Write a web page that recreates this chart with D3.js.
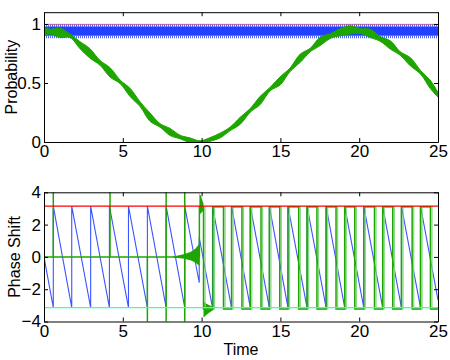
<!DOCTYPE html>
<html>
<head>
<meta charset="utf-8">
<script src="https://cdn.jsdelivr.net/npm/d3@7"></script>
<style>
  body { margin: 0; background: #fff; }
  svg { display: block; font-family: "Liberation Sans", Arial, sans-serif; }
</style>
</head>
<body>
<div id="app"></div>
<script>
/* globals d3 */
// DATA
const xTicks = [0, 5, 10, 15, 20, 25];
const probTicks = [0, 0.5, 1];
const phaseTicks = [-4, -2, 0, 2, 4];

// top panel: red reference, blue band, green curve (centre + half thickness)
const probRef = 0.997;
const blueBandT = [0, 25];
const blueBandLow = [0.9, 0.9];
const blueBandHigh = [0.978, 0.978];
const blueEdges = [0.888, 0.987];

const greenT = [0, 0.38, 1.0, 1.65, 2.29, 2.92, 3.56, 4.19, 4.83, 5.46, 6.1, 6.73, 7.37, 8.0, 8.64,
  9.28, 9.91, 10.5, 11.2, 11.8, 12.45, 13.1, 13.7, 14.36, 15.0, 15.6, 16.26, 16.9, 17.5, 18.2,
  18.8, 19.4, 20.1, 20.7, 21.3, 22.0, 22.6, 23.25, 23.9, 24.5, 25];
const greenMid = [0.94, 0.935, 0.925, 0.9, 0.82, 0.75, 0.67, 0.59, 0.51, 0.42, 0.32, 0.21, 0.14, 0.085, 0.042,
  0.014, 0.0, 0.02, 0.057, 0.11, 0.18, 0.27, 0.35, 0.45, 0.52, 0.61, 0.71, 0.78, 0.85, 0.9,
  0.93, 0.95, 0.94, 0.92, 0.876, 0.82, 0.75, 0.68, 0.59, 0.49, 0.4];
const greenHalf = [0.035, 0.02, 0.04, 0.015, 0.03, 0.04, 0.02, 0.04, 0.015, 0.035, 0.02, 0.035, 0.015, 0.03, 0.015,
  0.02, 0.01, 0.015, 0.02, 0.015, 0.03, 0.015, 0.035, 0.015, 0.035, 0.015, 0.035, 0.015, 0.035, 0.02,
  0.03, 0.035, 0.02, 0.035, 0.02, 0.035, 0.015, 0.035, 0.015, 0.035, 0.02];

// bottom panel
const phaseRefTop = 3.1416;
const phaseRefBottom = -3.1416;

const bluePhaseT = [0, 0.59, 0.59, 1.76, 1.76, 2.96, 2.96, 4.15, 4.15, 5.36, 5.36, 6.56, 6.56,
  7.75, 7.75, 8.93, 8.93, 9.85, 9.85, 10.69, 10.69, 11.9, 11.9, 13.09, 13.09, 14.3, 14.3,
  15.48, 15.48, 16.69, 16.69, 17.9, 17.9, 19.08, 19.08, 20.29, 20.29, 21.49, 21.49,
  22.68, 22.68, 23.89, 23.89, 25];
const bluePhaseV = [0, -3.14, 3.14, -3.14, 3.14, -3.14, 3.14, -3.14, 3.14, -3.14, 3.14, -3.14, 3.14,
  -3.14, 3.14, -3.14, 3.14, -1.6, 1.2, -3.14, 3.14, -3.14, 3.14, -3.14, 3.14, -3.14, 3.14,
  -3.14, 3.14, -3.14, 3.14, -3.14, 3.14, -3.14, 3.14, -3.14, 3.14, -3.14, 3.14,
  -3.14, 3.14, -3.14, 3.14, -2.67];

const greenPhaseT = [0, 0.59, 0.59, 0.59, 4.19, 4.19, 4.19, 6.56, 6.56, 6.56,
  7.75, 7.75, 7.75, 7.75, 8.93, 8.93, 8.93, 8.93, 9.86, 9.86,
  10.12, 10.12, 10.72, 10.72, 11.39, 11.39, 11.9, 11.9, 12.56, 12.56, 13.09, 13.09,
  13.77, 13.77, 14.3, 14.3, 14.96, 14.96, 15.48, 15.48, 16.16, 16.16, 16.69, 16.69,
  17.32, 17.32, 17.9, 17.9, 18.53, 18.53, 19.08, 19.08, 19.72, 19.72, 20.29, 20.29,
  20.97, 20.97, 21.49, 21.49, 22.13, 22.13, 22.68, 22.68, 23.36, 23.36, 23.89, 23.89,
  24.52, 24.52, 25];
const greenPhaseV = [0, 0, 6, 0, 0, 6, 0, 0, -6, 0,
  0, 6, -6, 0, 0, 6, -6, 0, 0, 3.1,
  3.1, -3.22, -3.22, 3.1, 3.1, -3.22, -3.22, 3.1, 3.1, -3.22, -3.22, 3.1,
  3.1, -3.22, -3.22, 3.1, 3.1, -3.22, -3.22, 3.1, 3.1, -3.22, -3.22, 3.1,
  3.1, -3.22, -3.22, 3.1, 3.1, -3.22, -3.22, 3.1, 3.1, -3.22, -3.22, 3.1,
  3.1, -3.22, -3.22, 3.1, 3.1, -3.22, -3.22, 3.1, 3.1, -3.22, -3.22, 3.1,
  3.1, -3.22, -3.22];
// second, paler copy of the square wave, slightly later in time
const greenPhaseLag = 0.1;

// fuzzy parts of the green phase around t = 10 (null = gap)
const fuzzT  = [8.2, 8.8, 9.3, 9.6, 9.85, null, 9.86, 9.95, 10.05, 10.12, null, 10.12, 10.3, 10.5, 10.72];
const fuzzLo = [-0.03, -0.1, -0.2, -0.35, -0.55, null, 2.6, 2.7, 2.8, 2.9, null, -3.75, -3.6, -3.45, -3.3];
const fuzzHi = [0.03, 0.15, 0.3, 0.5, 0.8, null, 3.9, 3.8, 3.5, 3.3, null, -2.75, -2.9, -3.0, -3.1];

// COLOURS
const RED = '#ff0000';
const BLUE = '#2240ff';
const BLUE_LINE = '#3a55ff';
const GREEN = '#1fa500';
const GREEN_PALE = '#86d886';
const CYAN = '#3dffb0';

// LAYOUT
const W = 450, H = 360;
const X0 = 44, X1 = 438;
const topBox = { top: 12.2, bottom: 142 };
const botBox = { top: 192.3, bottom: 321.5 };

const x = d3.scaleLinear().domain([0, 25]).range([X0, X1]);
const yProb = d3.scaleLinear().domain([0, 1.1]).range([topBox.bottom, topBox.top]);
const yPhase = d3.scaleLinear().domain([-4, 4]).range([botBox.bottom, botBox.top]);

const svg = d3.select('#app').append('svg')
  .attr('width', W)
  .attr('height', H);

function clip(id, box) {
  svg.append('clipPath').attr('id', id)
    .append('rect')
    .attr('x', X0).attr('y', box.top)
    .attr('width', X1 - X0).attr('height', box.bottom - box.top);
}
clip('clipTop', topBox);
clip('clipBot', botBox);

function drawAxes(y, box, yTicks, yFmt) {
  const g = svg.append('g').attr('class', 'axes');
  g.append('g')
    .attr('transform', `translate(0,${box.bottom})`)
    .call(d3.axisBottom(x).tickValues(xTicks).tickSize(-4).tickSizeOuter(0).tickPadding(3));
  g.append('g')
    .attr('transform', `translate(0,${box.top})`)
    .call(d3.axisTop(x).tickValues(xTicks).tickSize(-4).tickSizeOuter(0).tickFormat(''));
  g.append('g')
    .attr('transform', `translate(${X0},0)`)
    .call(d3.axisLeft(y).tickValues(yTicks).tickSize(-4).tickSizeOuter(0).tickPadding(3).tickFormat(yFmt));
  g.append('g')
    .attr('transform', `translate(${X1},0)`)
    .call(d3.axisRight(y).tickValues(yTicks).tickSize(-4).tickSizeOuter(0).tickFormat(''));
  g.selectAll('text').attr('font-size', 17).attr('font-family', '"Liberation Sans", Arial, sans-serif').attr('fill', '#000');
  g.selectAll('path, line').attr('stroke', '#000');
}

// TOP PANEL
const topG = svg.append('g').attr('clip-path', 'url(#clipTop)');

topG.append('line')
  .attr('x1', x(0)).attr('x2', x(25))
  .attr('y1', yProb(probRef)).attr('y2', yProb(probRef))
  .attr('stroke', '#ff5050').attr('stroke-width', 1);

topG.append('path')
  .datum(blueBandT.map((t, i) => [t, blueBandLow[i], blueBandHigh[i]]))
  .attr('fill', BLUE)
  .attr('d', d3.area().x(d => x(d[0])).y0(d => yProb(d[1])).y1(d => yProb(d[2])));

topG.selectAll('.bedge')
  .data(blueEdges)
  .enter()
    .append('line')
    .attr('x1', x(0)).attr('x2', x(25))
    .attr('y1', d => yProb(d)).attr('y2', d => yProb(d))
    .attr('stroke', BLUE).attr('stroke-width', 2.2)
    .attr('stroke-dasharray', '1,1').attr('opacity', 0.8);

topG.append('path')
  .datum(greenT.map((t, i) => [t, greenMid[i] - greenHalf[i], greenMid[i] + greenHalf[i]]))
  .attr('fill', GREEN)
  .attr('stroke', GREEN).attr('stroke-width', 1)
  .attr('d', d3.area().curve(d3.curveCatmullRom)
    .x(d => x(d[0])).y0(d => yProb(d[1])).y1(d => yProb(d[2])));

drawAxes(yProb, topBox, probTicks, d3.format('~g'));

svg.append('text')
  .attr('transform', `translate(17,${(topBox.top + topBox.bottom) / 2}) rotate(-90)`)
  .attr('text-anchor', 'middle')
  .attr('font-size', 16)
  .text('Probability');

// BOTTOM PANEL
const botG = svg.append('g').attr('clip-path', 'url(#clipBot)');
const phaseLine = d3.line().x(d => x(d[0])).y(d => yPhase(d[1]));

botG.append('path')
  .datum(bluePhaseT.map((t, i) => [t, bluePhaseV[i]]))
  .attr('fill', 'none')
  .attr('stroke', BLUE_LINE).attr('stroke-width', 1.1)
  .attr('d', phaseLine);

botG.append('path')
  .datum(fuzzT.map((t, i) => [t, fuzzLo[i], fuzzHi[i]]))
  .attr('fill', GREEN)
  .attr('d', d3.area()
    .defined(d => d[0] !== null)
    .x(d => x(d[0])).y0(d => yPhase(d[1])).y1(d => yPhase(d[2])));

const squareStart = greenPhaseT.indexOf(9.86);
botG.append('path')
  .datum(greenPhaseT.map((t, i) => [t + greenPhaseLag, greenPhaseV[i]]).slice(squareStart + 2))
  .attr('fill', 'none')
  .attr('stroke', GREEN_PALE).attr('stroke-width', 1.2)
  .attr('d', phaseLine);

botG.append('path')
  .datum(greenPhaseT.map((t, i) => [t, greenPhaseV[i]]))
  .attr('fill', 'none')
  .attr('stroke', GREEN).attr('stroke-width', 1.5)
  .attr('d', phaseLine);

botG.selectAll('.ref')
  .data([[phaseRefTop, RED], [phaseRefBottom, CYAN]])
  .enter()
    .append('line')
    .attr('x1', x(0)).attr('x2', x(25))
    .attr('y1', d => yPhase(d[0])).attr('y2', d => yPhase(d[0]))
    .attr('stroke', d => d[1]).attr('stroke-width', 1.2);

drawAxes(yPhase, botBox, phaseTicks, d3.format('d'));

svg.append('text')
  .attr('transform', `translate(20,${(botBox.top + botBox.bottom) / 2}) rotate(-90)`)
  .attr('text-anchor', 'middle')
  .attr('font-size', 16)
  .text('Phase Shift');

svg.append('text')
  .attr('x', (X0 + X1) / 2)
  .attr('y', 355)
  .attr('text-anchor', 'middle')
  .attr('font-size', 16)
  .text('Time');
</script>
</body>
</html>
